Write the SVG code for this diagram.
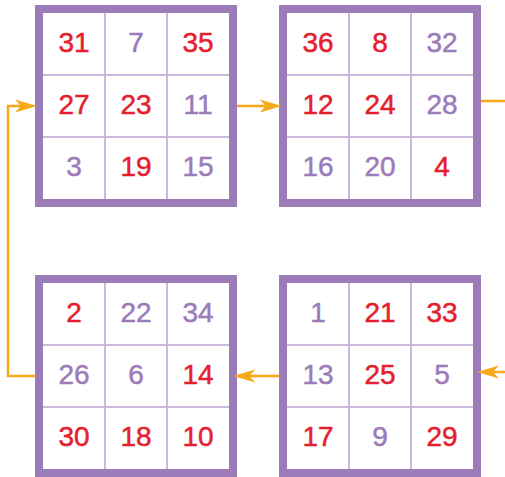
<svg xmlns="http://www.w3.org/2000/svg" width="505" height="477" viewBox="0 0 505 477">
<style>
.frame{fill:#fff;stroke:#9b7cb9;stroke-width:8}
.div{stroke:#cbb8dd;stroke-width:2;fill:none}
text{font-family:"Liberation Sans",Arial,sans-serif;font-size:28px;text-anchor:middle;stroke-width:0.5}
.r{fill:#e5202e;stroke:#e5202e}
.p{fill:#9b7cb9;stroke:#9b7cb9}
.conn{fill:none;stroke:#f7a81b;stroke-width:2.5;marker-end:url(#ah)}
</style>
<defs>
<marker id="ah" markerUnits="userSpaceOnUse" viewBox="-14 -7 22 14" markerWidth="22" markerHeight="14" refX="0" refY="0" orient="auto">
<path d="M8,0 L-14,-6.5 L-8,0 L-14,6.5 Z" fill="#f7a81b"/>
</marker>
<g id="grid">
<rect class="frame" x="4" y="4" width="194" height="194"/>
<path class="div" d="M70,8V194M132,8V194M8,70H194M8,132H194"/>
</g>
</defs>
<g id="square1" transform="translate(35,5)">
<use href="#grid"/>
<text class="r" x="39" y="46.7">31</text><text class="p" x="101" y="46.7">7</text><text class="r" x="163" y="46.7">35</text>
<text class="r" x="39" y="108.7">27</text><text class="r" x="101" y="108.7">23</text><text class="p" x="163" y="108.7">11</text>
<text class="p" x="39" y="170.7">3</text><text class="r" x="101" y="170.7">19</text><text class="p" x="163" y="170.7">15</text>
</g>
<g id="square2" transform="translate(279,5)">
<use href="#grid"/>
<text class="r" x="39" y="46.7">36</text><text class="r" x="101" y="46.7">8</text><text class="p" x="163" y="46.7">32</text>
<text class="r" x="39" y="108.7">12</text><text class="r" x="101" y="108.7">24</text><text class="p" x="163" y="108.7">28</text>
<text class="p" x="39" y="170.7">16</text><text class="p" x="101" y="170.7">20</text><text class="r" x="163" y="170.7">4</text>
</g>
<g id="square3" transform="translate(35,275)">
<use href="#grid"/>
<text class="r" x="39" y="46.7">2</text><text class="p" x="101" y="46.7">22</text><text class="p" x="163" y="46.7">34</text>
<text class="p" x="39" y="108.7">26</text><text class="p" x="101" y="108.7">6</text><text class="r" x="163" y="108.7">14</text>
<text class="r" x="39" y="170.7">30</text><text class="r" x="101" y="170.7">18</text><text class="r" x="163" y="170.7">10</text>
</g>
<g id="square4" transform="translate(279,275)">
<use href="#grid"/>
<text class="p" x="39" y="46.7">1</text><text class="r" x="101" y="46.7">21</text><text class="r" x="163" y="46.7">33</text>
<text class="p" x="39" y="108.7">13</text><text class="r" x="101" y="108.7">25</text><text class="p" x="163" y="108.7">5</text>
<text class="r" x="39" y="170.7">17</text><text class="p" x="101" y="170.7">9</text><text class="r" x="163" y="170.7">29</text>
</g>
<g id="connectors">
<path class="conn" d="M237,106H273.7"/>
<path class="conn" d="M481,101H510V372H485"/>
<path class="conn" d="M279,376H241.3"/>
<path class="conn" d="M35,376H8V106H29"/>
</g>
</svg>
